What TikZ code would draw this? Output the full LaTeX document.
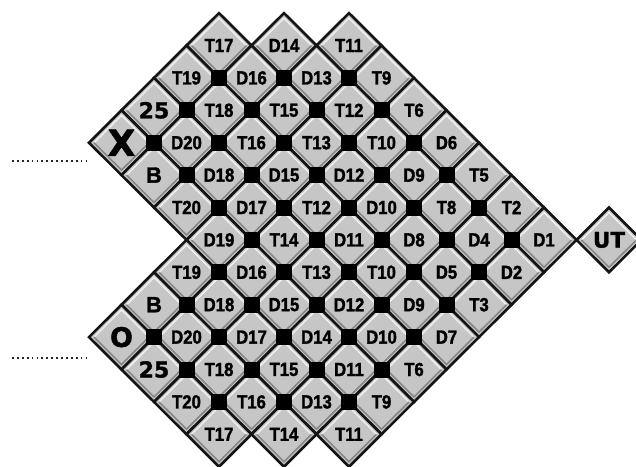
\documentclass[tikz,border=0pt]{standalone}
\usepackage{fontspec}
\setmainfont{Liberation Sans}[FakeStretch=0.88, BoldFeatures={FakeBold=1.6}]
\newfontfamily\dvs{DejaVu Sans}[BoldFeatures={FakeBold=1.3}]
\newfontfamily\lib{Liberation Sans}[BoldFeatures={FakeBold=1.8}]
\usetikzlibrary{shapes.geometric}
\definecolor{tilegray}{HTML}{C6C6C6}
\newcommand\bigf{\dvs\fontsize{22}{22}\selectfont\bfseries}
\newcommand\bfnt{\lib\fontsize{22}{22}\selectfont\bfseries}
\newcommand\xf{\dvs\fontsize{36}{36}\selectfont\bfseries}
\newcommand\of{\dvs\fontsize{27}{27}\selectfont\bfseries}
\newcommand\utf{\dvs\fontsize{21.5}{21.5}\selectfont\bfseries}
\def\tilelist{%
3/0/T17, 5/0/D14, 7/0/T11,
2/1/T19, 4/1/D16, 6/1/D13, 8/1/T9,
1/2/{\bigf 25}, 3/2/T18, 5/2/T15, 7/2/T12, 9/2/T6,
0/3/{\xf X}, 2/3/D20, 4/3/T16, 6/3/T13, 8/3/T10, 10/3/D6,
1/4/{\bfnt B}, 3/4/D18, 5/4/D15, 7/4/D12, 9/4/D9, 11/4/T5,
2/5/T20, 4/5/D17, 6/5/T12, 8/5/D10, 10/5/T8, 12/5/T2,
3/6/D19, 5/6/T14, 7/6/D11, 9/6/D8, 11/6/D4, 13/6/D1, 15/6/{\utf UT},
2/7/T19, 4/7/D16, 6/7/T13, 8/7/T10, 10/7/D5, 12/7/D2,
1/8/{\bfnt B}, 3/8/D18, 5/8/D15, 7/8/D12, 9/8/D9, 11/8/T3,
0/9/{\of O}, 2/9/D20, 4/9/D17, 6/9/D14, 8/9/D10, 10/9/D7,
1/10/{\bigf 25}, 3/10/T18, 5/10/T15, 7/10/D11, 9/10/T6,
2/11/T20, 4/11/T16, 6/11/D13, 8/11/T9,
3/12/T17, 5/12/T14, 7/12/T11}
\begin{document}
\begin{tikzpicture}[x=1pt,y=-1pt,
  tile/.style={shape=diamond, draw=black!92, line width=2.6pt, fill=tilegray,
    minimum width=65pt, minimum height=64.8pt, inner sep=0pt, outer sep=0pt,
    font=\fontsize{19}{19}\selectfont\bfseries},
  hilite/.style={white, line width=1.5pt, opacity=.75},
  shade/.style={black!60, line width=1.6pt, opacity=.65},
  sq/.style={fill=black, minimum size=16pt, inner sep=0pt, outer sep=0pt},
  dots/.style={line width=1.8pt, dash pattern=on 1.8pt off 3.1pt, black!85}]
\useasboundingbox (0,0) rectangle (636,466);
% tiles
\foreach \c/\r/\t in \tilelist {
  \node[tile] (t-\c-\r) at ({121.5+32.5*\c},{45.5+32.4*\r}) {\t};
}
% bevel
\foreach \c/\r/\t in \tilelist {
  \draw[hilite] ([xshift=5pt]t-\c-\r.west) -- ([yshift=-5pt]t-\c-\r.north) -- ([xshift=-5pt]t-\c-\r.east);
  \draw[shade] ([xshift=5pt]t-\c-\r.west) -- ([yshift=5pt]t-\c-\r.south) -- ([xshift=-5pt]t-\c-\r.east);
}
% black squares at inner corners
\foreach \r/\cs in {1/{3,5,7}, 2/{2,4,6,8}, 3/{1,3,5,7,9}, 4/{2,4,6,8,10},
  5/{3,5,7,9,11}, 6/{4,6,8,10,12}, 7/{3,5,7,9,11}, 8/{2,4,6,8,10},
  9/{1,3,5,7,9}, 10/{2,4,6,8}, 11/{3,5,7}} {
  \foreach \c in \cs {
    \node[sq] (s-\c-\r) at ({121.5+32.5*\c},{45.5+32.4*\r}) {};
  }
}
% dotted lines
\coordinate (d1a) at (12,161);
\coordinate (d1b) at (89,161);
\coordinate (d2a) at (12,358);
\coordinate (d2b) at (89,358);
\draw[dots] (d1a) -- (d1b);
\draw[dots] (d2a) -- (d2b);
\end{tikzpicture}
\end{document}
